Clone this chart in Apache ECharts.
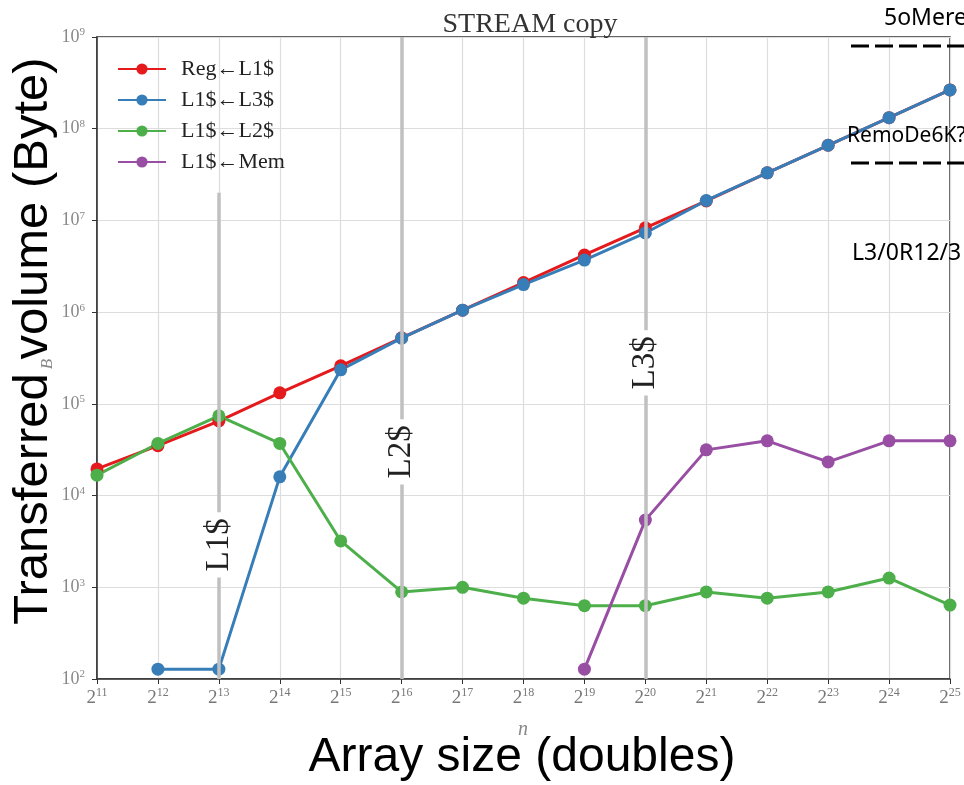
<!DOCTYPE html>
<html>
<head>
<meta charset="utf-8">
<script src="https://cdn.jsdelivr.net/npm/echarts@6/dist/echarts.min.js"></script>
<style>
  html, body { margin: 0; padding: 0; background: #fff; }
  #chart { width: 964px; height: 785px; }
</style>
</head>
<body>
<div id="chart"></div>
<script>
// array size exponents n (size = 2^n)
var exps = [11, 12, 13, 14, 15, 16, 17, 18, 19, 20, 21, 22, 23, 24, 25];

var regL1 = [19500, 35000, 65000, 132000, 260000, 525000, 1.05e6, 2.1e6, 4.2e6, 8.3e6, 1.63e7, 3.3e7, 6.6e7, 1.32e8, 2.65e8];
var l1L3 = [null, 128, 128, 16000, 235000, 520000, 1.05e6, 2.0e6, 3.7e6, 7.3e6, 1.65e7, 3.3e7, 6.6e7, 1.32e8, 2.65e8];
var l1L2 = [16700, 37000, 74000, 37000, 3200, 890, 1000, 760, 630, 630, 890, 760, 890, 1260, 640];
var l1Mem = [null, null, null, null, null, null, null, null, 128, 5400, 31500, 39500, 23300, 39500, 39500];

// cache boundaries: [label, n, line top, label position]
var cacheLines = [
  ['L1$', 13, 2e7, 2900],
  ['L2$', 16, 1e9, 30000],
  ['L3$', 20, 1e9, 280000]
];

var serif = 'Liberation Serif, DejaVu Serif, serif';

function pairs(vals) {
  return exps.map(function (n, i) { return [n, vals[i]]; }).filter(function (p) { return p[1] != null; });
}

function lineSeries(name, color, vals) {
  return {
    name: name,
    type: 'line',
    data: pairs(vals),
    symbol: 'circle',
    symbolSize: 13,
    lineStyle: { width: 3, color: color },
    itemStyle: { color: color },
    z: 3
  };
}

var chart = echarts.init(document.getElementById('chart'));

var option = {
  animation: false,
  backgroundColor: '#fff',
  title: {
    text: 'STREAM copy',
    left: 525,
    top: 6,
    textAlign: 'center',
    textStyle: { fontFamily: serif, fontSize: 28, fontWeight: 'normal', color: '#333' }
  },
  grid: {
    left: 97, right: 14, top: 37, bottom: 106,
    show: true, borderColor: '#333', borderWidth: 1.5
  },
  legend: {
    left: 117,
    top: 58,
    padding: 0,
    orient: 'vertical',
    itemWidth: 48,
    itemHeight: 14,
    itemGap: 9,
    textStyle: { fontFamily: serif, fontSize: 22, lineHeight: 22, color: '#222', padding: [0, 0, 0, 10] },
    data: ['Reg\u2190L1$', 'L1$\u2190L3$', 'L1$\u2190L2$', 'L1$\u2190Mem']
  },
  xAxis: {
    type: 'value',
    min: 11,
    max: 25,
    interval: 1,
    axisLine: { lineStyle: { color: '#333', width: 1.5 } },
    axisTick: { show: true, length: 5, lineStyle: { color: '#333' } },
    splitLine: { show: true, lineStyle: { color: '#ddd', width: 1.2 } },
    axisLabel: {
      margin: 8,
      formatter: function (v) { return '{b|2}{s|' + v + '}'; },
      rich: {
        b: { fontFamily: serif, fontSize: 19, color: '#777' },
        s: { fontFamily: serif, fontSize: 12, color: '#777', padding: [0, 0, 10, 0] }
      }
    }
  },
  yAxis: {
    type: 'log',
    logBase: 10,
    min: 100,
    max: 1e9,
    axisLine: { show: true, lineStyle: { color: '#333', width: 1.5 } },
    axisTick: { show: true, length: 5, lineStyle: { color: '#333' } },
    splitLine: { show: true, lineStyle: { color: '#ddd', width: 1.2 } },
    axisLabel: {
      margin: 12,
      formatter: function (v) { return '{b|10}{s|' + Math.round(Math.log10(v)) + '}'; },
      rich: {
        b: { fontFamily: serif, fontSize: 18, color: '#888' },
        s: { fontFamily: serif, fontSize: 11, color: '#888', padding: [0, 0, 9, 0] }
      }
    }
  },
  series: [
    {
      name: 'caches',
      type: 'line',
      data: [],
      silent: true,
      z: 1,
      markLine: {
        silent: true,
        symbol: 'none',
        label: { show: false },
        lineStyle: { color: '#c0c0c0', width: 3.5, type: 'solid' },
        data: cacheLines.map(function (c) {
          return [{ coord: [c[1], 100] }, { coord: [c[1], c[2]] }];
        })
      }
    },
    lineSeries('Reg\u2190L1$', '#e41a1c', regL1),
    lineSeries('L1$\u2190L3$', '#377eb8', l1L3),
    lineSeries('L1$\u2190L2$', '#4daf4a', l1L2),
    lineSeries('L1$\u2190Mem', '#984ea3', l1Mem)
  ]
};

chart.setOption(option);

// labels on the cache boundary lines and overlay texts
var graphics = cacheLines.map(function (c) {
  var p = chart.convertToPixel({ gridIndex: 0 }, [c[1], c[3]]);
  return {
    type: 'text',
    x: p[0], y: p[1],
    rotation: Math.PI / 2,
    z: 50,
    style: {
      text: c[0],
      fontFamily: serif, fontSize: 33, fill: '#222',
      align: 'center', verticalAlign: 'middle',
      backgroundColor: '#fff', padding: [2, 6]
    }
  };
});

var sans = 'Liberation Sans, Arial, sans-serif';
var noto = 'Noto Sans, Open Sans, sans-serif';
graphics.push(
  { type: 'text', x: 33, y: 341, rotation: Math.PI / 2, z: 60,
    style: { text: 'Transferred volume (Byte)', fontFamily: sans, fontSize: 49, fill: '#000', align: 'center', verticalAlign: 'middle' } },
  { type: 'text', x: 48, y: 364, rotation: Math.PI / 2, z: 59,
    style: { text: 'B', fontFamily: serif, fontStyle: 'italic', fontSize: 17, fill: '#888', align: 'center', verticalAlign: 'middle' } },
  { type: 'text', x: 523, y: 730, z: 59,
    style: { text: 'n', fontFamily: serif, fontStyle: 'italic', fontSize: 20, fill: '#888', align: 'center', verticalAlign: 'middle' } },
  { type: 'text', x: 522, y: 758, z: 60,
    style: { text: 'Array size (doubles)', fontFamily: sans, fontSize: 48, fill: '#000', align: 'center', verticalAlign: 'middle' } },
  { type: 'text', x: 884, y: 18, z: 60,
    style: { text: '5oMere', fontFamily: noto, fontSize: 23, fill: '#000', align: 'left', verticalAlign: 'middle' } },
  { type: 'line', z: 60, shape: { x1: 851, y1: 46, x2: 964, y2: 46 },
    style: { stroke: '#000', lineWidth: 3, lineDash: [18, 6] } },
  { type: 'text', x: 847, y: 136, z: 60,
    style: { text: 'RemoDe6K?', fontFamily: noto, fontSize: 21, fill: '#000', align: 'left', verticalAlign: 'middle' } },
  { type: 'line', z: 60, shape: { x1: 851, y1: 163, x2: 964, y2: 163 },
    style: { stroke: '#000', lineWidth: 3, lineDash: [18, 6] } },
  { type: 'text', x: 852, y: 253, z: 60,
    style: { text: 'L3/0R12/3', fontFamily: noto, fontSize: 23, fill: '#000', align: 'left', verticalAlign: 'middle' } }
);

chart.setOption({ graphic: graphics });

window.addEventListener('resize', function () {
  chart.resize();
});
</script>
</body>
</html>
